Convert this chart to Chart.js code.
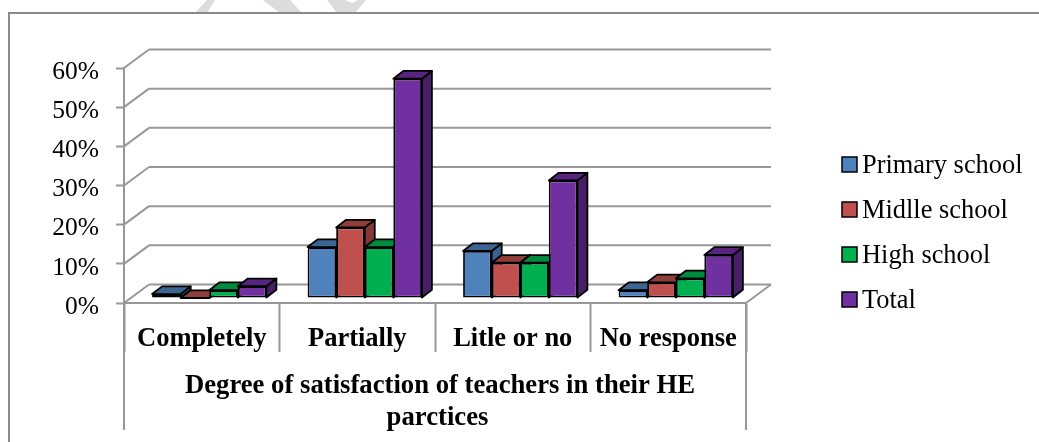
<!DOCTYPE html>
<html>
<head>
<meta charset="utf-8">
<title>Degree of satisfaction of teachers</title>
<script src="https://cdn.jsdelivr.net/npm/chart.js@4"></script>
<style>
  html, body { margin: 0; padding: 0; background: #fff; }
  canvas { display: block; }
</style>
</head>
<body>
<canvas id="chart" width="1039" height="442"></canvas>
<script>
const categories = ["Completely", "Partially", "Litle or no", "No response"];
const seriesNames = ["Primary school", "Midlle school", "High school", "Total"];
const primaryValues = [1, 13, 12, 2];
const middleValues = [0, 18, 9, 4];
const highValues = [2, 13, 9, 5];
const totalValues = [3, 56, 30, 11];
const yTicks = [0, 10, 20, 30, 40, 50, 60];
const axisTitle = ["Degree of satisfaction of teachers in their HE", "parctices"];

const frontColors = ["#4F81BD", "#C0504D", "#00B050", "#7030A0"];
const topColors = ["#3D6592", "#8F3E3B", "#008A3E", "#572480"];
const sideColors = ["#3A6190", "#863836", "#007A37", "#471F66"];

const LINE = "#989898";
const SERIF = "'Liberation Serif', 'Times New Roman', serif";
const wallDx = 25, wallDy = -18.5;   // depth of the floor
const barShiftX = 7.5, barShiftY = -5;
const barDepthX = 10, barDepthY = -7.7;

function poly(ctx, points, fill, stroke)
{
  ctx.beginPath();
  points.forEach((p, i) => i ? ctx.lineTo(p[0], p[1]) : ctx.moveTo(p[0], p[1]));
  ctx.closePath();
  if (fill) { ctx.fillStyle = fill; ctx.fill(); }
  if (stroke) { ctx.strokeStyle = stroke; ctx.lineWidth = 1.8; ctx.lineJoin = "round"; ctx.stroke(); }
}

function seg(ctx, x0, y0, x1, y1)
{
  ctx.beginPath();
  ctx.moveTo(x0, y0);
  ctx.lineTo(x1, y1);
  ctx.stroke();
}

const threeD = {
  id: "threeD",
  beforeDraw(chart) {
    const ctx = chart.ctx;
    ctx.save();
    // watermark remains above the frame, then the frame itself
    poly(ctx, [[195, 13], [207, 13], [215, 0], [207, 0]], "#dcdcdc");
    poly(ctx, [[263, 0], [290, 0], [302, 13], [280, 13]], "#dcdcdc");
    poly(ctx, [[327, 0], [345, 0], [352, 3], [358, 0], [366, 0], [355, 13], [337, 13]], "#dcdcdc");
    ctx.strokeStyle = "#8a8a8a";
    ctx.lineWidth = 2;
    seg(ctx, 9, 13, 1039, 13);
    seg(ctx, 9, 12, 9, 442);
    ctx.restore();
  },
  beforeDatasetsDraw(chart) {
    const ctx = chart.ctx;
    const area = chart.chartArea;
    const y = chart.scales.y;
    ctx.save();
    ctx.strokeStyle = LINE;
    ctx.lineWidth = 2;
    yTicks.forEach(v => {
      const py = y.getPixelForValue(v);
      seg(ctx, area.left, py, area.left + wallDx, py + wallDy);
      seg(ctx, area.left + wallDx, py + wallDy, area.right + wallDx, py + wallDy);
    });
    seg(ctx, area.right, area.bottom, area.right + wallDx, area.bottom + wallDy);
    ctx.restore();

    // everything the bars draw is pushed back onto the floor
    ctx.save();
    ctx.translate(barShiftX, barShiftY);
    chart.data.datasets.forEach((ds, d) => {
      chart.getDatasetMeta(d).data.forEach(bar => {
        const left = bar.x - bar.width / 2, right = bar.x + bar.width / 2;
        const top = bar.y, base = bar.base;
        poly(ctx, [[right, top], [right + barDepthX, top + barDepthY],
                   [right + barDepthX, base + barDepthY], [right, base]], sideColors[d], "#000");
        poly(ctx, [[left, top], [left + barDepthX, top + barDepthY],
                   [right + barDepthX, top + barDepthY], [right, top]], topColors[d], "#000");
      });
    });
  },
  afterDatasetsDraw(chart) {
    const ctx = chart.ctx;
    ctx.restore();

    const area = chart.chartArea;
    ctx.save();
    ctx.strokeStyle = LINE;
    ctx.lineWidth = 2;
    seg(ctx, area.left, area.bottom, area.left, 430);
    seg(ctx, area.right, area.bottom, area.right, 430);

    // axis title sits a little right of the axis centre in the original
    ctx.fillStyle = "#000";
    ctx.font = "bold 26.7px " + SERIF;
    ctx.textAlign = "center";
    ctx.textBaseline = "middle";
    ctx.fillText(axisTitle[0], 440, 386);
    ctx.fillText(axisTitle[1], 437.5, 418);

    // legend
    ctx.font = "26.4px " + SERIF;
    ctx.textAlign = "left";
    seriesNames.forEach((name, i) => {
      const rowY = 165 + i * 45;
      ctx.fillStyle = frontColors[i];
      ctx.fillRect(842, rowY - 8, 15, 15);
      ctx.strokeStyle = "#000";
      ctx.lineWidth = 1.5;
      ctx.strokeRect(842, rowY - 8, 15, 15);
      ctx.fillStyle = "#000";
      ctx.fillText(name, 862, rowY + 1);
    });
    ctx.restore();
  }
};

function makeDataset(i, values)
{
  return {
    label: seriesNames[i],
    data: values,
    backgroundColor: frontColors[i],
    borderColor: "#000",
    borderWidth: 1.8,
    borderSkipped: false,
    barPercentage: 1,
    categoryPercentage: 0.735,
    clip: false
  };
}

new Chart(document.getElementById("chart"), {
  type: "bar",
  data: {
    labels: categories,
    datasets: [
      makeDataset(0, primaryValues),
      makeDataset(1, middleValues),
      makeDataset(2, highValues),
      makeDataset(3, totalValues)
    ]
  },
  plugins: [threeD],
  options: {
    responsive: false,
    animation: false,
    layout: { padding: { top: 68, right: 293, left: 0, bottom: 0 } },
    plugins: { legend: { display: false }, tooltip: { enabled: false } },
    scales: {
      x: {
        afterFit(scale) { scale.height = 139; },
        grid: { drawOnChartArea: false, tickLength: 49, tickColor: LINE, tickWidth: 2 },
        border: { color: LINE, width: 2 },
        ticks: {
          color: "#000",
          padding: -29,
          maxRotation: 0,
          autoSkip: false,
          font: { family: SERIF, size: 26.5, weight: "bold" }
        }
      },
      y: {
        min: 0,
        max: 60,
        afterFit(scale) { scale.width = 124; },
        afterBuildTicks(scale) { scale.ticks = yTicks.map(v => ({ value: v })); },
        grid: { drawOnChartArea: false, tickLength: 8, tickColor: LINE, tickWidth: 2 },
        border: { color: LINE, width: 2 },
        ticks: {
          color: "#000",
          padding: 17,
          labelOffset: 4,
          font: { family: SERIF, size: 25.5 },
          callback: v => v + "%"
        }
      }
    }
  }
});
</script>
</body>
</html>
